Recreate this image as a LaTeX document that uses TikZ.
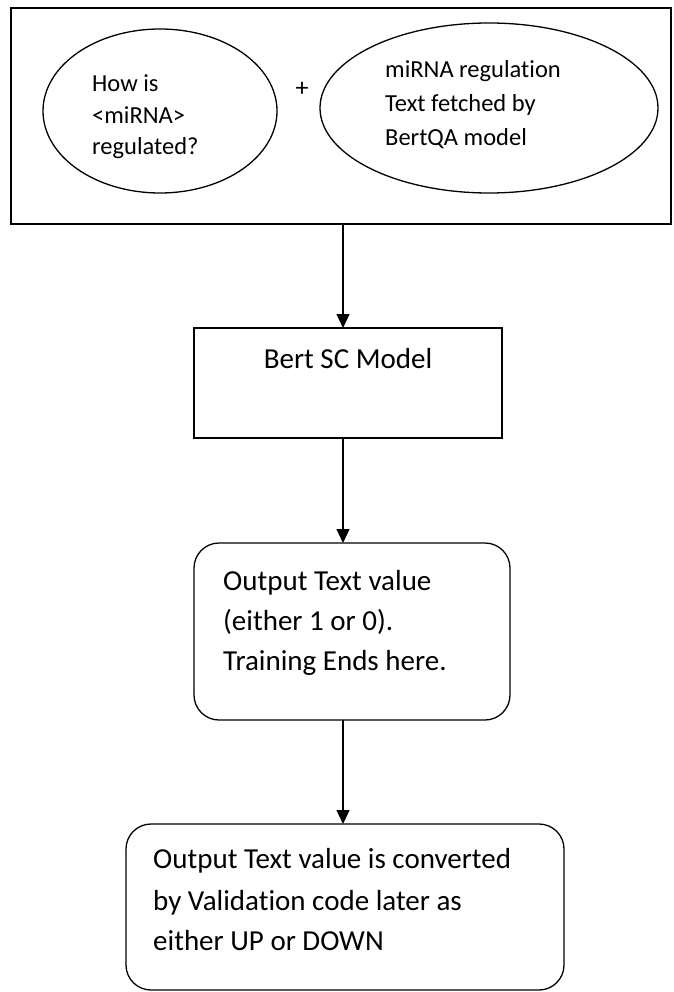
\documentclass[tikz,border=0pt]{standalone}
\usepackage{fontspec}
\setmainfont{Carlito}[RawFeature={-liga}]
\usetikzlibrary{shapes.geometric,arrows.meta}
\begin{document}
\begin{tikzpicture}[x=1pt,y=-1pt,
  lw/.style={line width=1.3pt},
  boxshape/.style={draw,lw,rectangle,inner sep=0pt,outer sep=0pt},
  roundbox/.style={boxshape,rounded corners=25pt},
  ellshape/.style={draw,lw,ellipse,inner sep=0pt,outer sep=0pt},
  smalltxt/.style={inner sep=0pt,anchor=base west,font=\fontsize{24.5}{30}\selectfont},
  bigtxt/.style={inner sep=0pt,anchor=base west,font=\fontsize{29}{36}\selectfont},
  arr/.style={lw,-{Triangle[length=14pt,width=13pt]}}
]
\useasboundingbox (0,0) rectangle (673,992);
\fill[white] (0,0) rectangle (673,992);

% top container
\node[boxshape,minimum width=660pt,minimum height=216pt] (outer) at (341,116) {};
\node[ellshape,minimum width=234pt,minimum height=164pt] (q) at (160,111) {};
\node[ellshape,minimum width=338pt,minimum height=170pt] (ctx) at (489,108) {};
\node[inner sep=0pt,anchor=base,font=\fontsize{26}{30}\selectfont] (plus) at (302,97) {+};

\node[smalltxt] (q1) at (92,92) {How is};
\node[smalltxt] (q2) at (92,123.5) {<miRNA>};
\node[smalltxt] (q3) at (92,155) {regulated?};

\node[smalltxt] (c1) at (385,78) {miRNA regulation};
\node[smalltxt] (c2) at (385,112) {Text fetched by};
\node[smalltxt] (c3) at (385,146) {BertQA model};

% Bert SC model
\node[boxshape,minimum width=308pt,minimum height=110pt] (bert) at (348,383) {};
\node[inner sep=0pt,anchor=base,font=\fontsize{29}{36}\selectfont] (berttxt) at (348,368) {Bert SC Model};

% output box
\node[roundbox,minimum width=316pt,minimum height=177pt] (out) at (352,631.5) {};
\node[bigtxt] (o1) at (223,590) {Output Text value};
\node[bigtxt] (o2) at (223,630) {(either 1 or 0).};
\node[bigtxt] (o3) at (223,670) {Training Ends here.};

% validation box
\node[roundbox,minimum width=438pt,minimum height=166pt] (val) at (345,907) {};
\node[bigtxt] (v1) at (153,868) {Output Text value is converted};
\node[bigtxt] (v2) at (153,910) {by Validation code later as};
\node[bigtxt] (v3) at (153,950) {either UP or DOWN};

% connectors
\coordinate (ax) at (343,0);
\draw[arr] (outer.south -| ax) -- (bert.north -| ax);
\draw[arr] (bert.south -| ax) -- (out.north -| ax);
\draw[arr] (out.south -| ax) -- (val.north -| ax);
\end{tikzpicture}
\end{document}
